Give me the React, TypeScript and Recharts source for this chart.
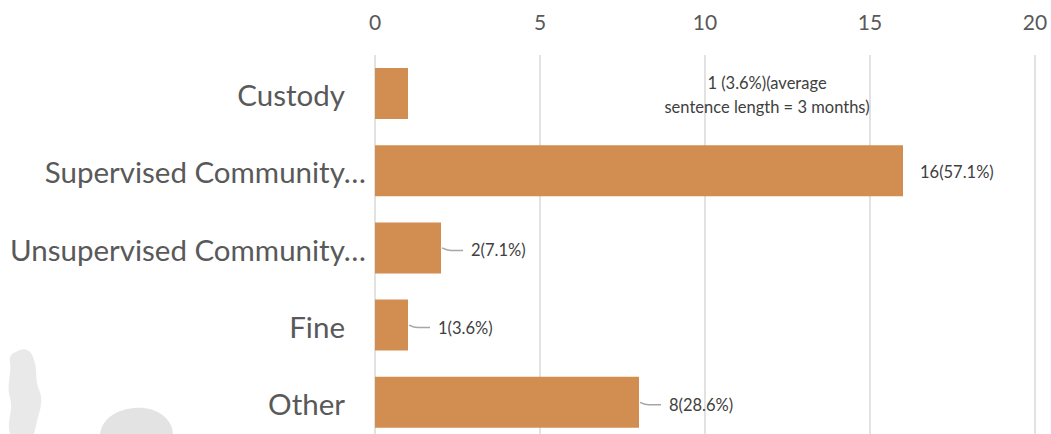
import { BarChart, Bar, XAxis, YAxis, CartesianGrid, LabelList } from "recharts";

const CATEGORIES = ["Custody", "Supervised Community…", "Unsupervised Community…", "Fine", "Other"];
const COUNTS = [1, 16, 2, 1, 8];
const PERCENTS = ["3.6", "57.1", "7.1", "3.6", "28.6"];
const NOTES = ["average sentence length = 3 months", "", "", "", ""];
const X_TICKS = [0, 5, 10, 15, 20];

const data = CATEGORIES.map((name, i) => ({ name, count: COUNTS[i], pct: PERCENTS[i], note: NOTES[i] }));

const FONT = "Lato, 'Open Sans', sans-serif";
const BAR_COLOR = "#D28E50";
const PLOT_LEFT = 375;

const XTick = (props: any) => {
  const { x, payload } = props;
  return (
    <text x={x} y={30} textAnchor="middle" fontSize={21} fill="#595959" fontFamily={FONT}>
      {payload.value}
    </text>
  );
};

const YTick = (props: any) => {
  const { y, payload } = props;
  const label: string = payload.value;
  const endX = label.endsWith("…") ? PLOT_LEFT - 9 : PLOT_LEFT - 30;
  return (
    <text x={endX} y={y + 1} textAnchor="end" dominantBaseline="central" fontSize={29.5} fill="#595959" fontFamily={FONT}>
      {label}
    </text>
  );
};

const ValueLabel = (props: any) => {
  const { x, y, width, height, index } = props;
  const d = data[index];
  const end = x + width;
  const cy = y + height / 2;
  const style = { fontSize: 16.5, fill: "#404040", fontFamily: FONT };
  if (d.note) {
    // hand-placed note label, far right of the short bar
    const [first, ...rest] = d.note.split(" ");
    const cx = end + 359;
    return (
      <g>
        <text x={cx} y={cy - 11} textAnchor="middle" dominantBaseline="central" {...style}>
          {`${d.count} (${d.pct}%)(${first}`}
        </text>
        <text x={cx} y={cy + 13} textAnchor="middle" dominantBaseline="central" {...style}>
          {`${rest.join(" ")})`}
        </text>
      </g>
    );
  }
  if (d.count >= 10) {
    return (
      <text x={end + 17} y={cy + 1} dominantBaseline="central" {...style}>
        {`${d.count}(${d.pct}%)`}
      </text>
    );
  }
  return (
    <g>
      <path d={`M${end + 1},${cy} Q${end + 6},${cy + 2.5} ${end + 10},${cy + 2.5} L${end + 22},${cy + 2.5}`} stroke="#a6a6a6" strokeWidth={1.5} fill="none" />
      <text x={end + 30} y={cy + 2.5} dominantBaseline="central" {...style}>
        {`${d.count}(${d.pct}%)`}
      </text>
    </g>
  );
};

export default function App() {
  return (
    <div style={{ position: "absolute", left: 0, top: 0, width: 1051, height: 434, overflow: "hidden", background: "#fff" }}>
      {/* faint background watermark, bottom left */}
      <svg width={1051} height={434} style={{ position: "absolute", left: 0, top: 0 }}>
        <path d="M16,352 C24,346 32,350 34,360 C38,370 34,380 40,392 C44,404 38,414 36,426 L34,434 L10,434 C6,422 14,410 10,398 C6,386 12,372 10,362 C9,356 12,353 16,352 Z" fill="#e9e9e9" />
        <path d="M100,434 C102,420 114,410 134,408 C154,406 168,416 172,428 L173,434 Z" fill="#e3e3e3" />
      </svg>
      <div style={{ position: "absolute", left: 0, top: 0 }}>
        <BarChart
          width={1051}
          height={441}
          data={data}
          layout="vertical"
          margin={{ top: 0, right: 16, bottom: 0, left: 0 }}
        >
          <CartesianGrid horizontal={false} stroke="#d9d9d9" strokeWidth={1.5} />
          <XAxis
            type="number"
            orientation="top"
            domain={[0, 20]}
            ticks={X_TICKS}
            height={55}
            axisLine={false}
            tickLine={false}
            tick={<XTick />}
          />
          <YAxis
            type="category"
            dataKey="name"
            width={375}
            axisLine={false}
            tickLine={false}
            tick={<YTick />}
          />
          <Bar dataKey="count" fill={BAR_COLOR} barSize={51} isAnimationActive={false}>
            <LabelList dataKey="count" content={<ValueLabel />} />
          </Bar>
        </BarChart>
      </div>
    </div>
  );
}
